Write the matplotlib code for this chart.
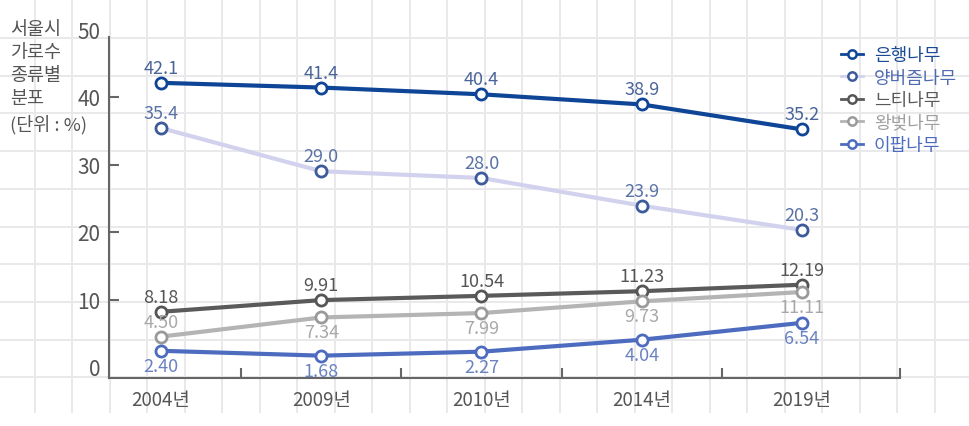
import matplotlib
matplotlib.use("Agg")
import matplotlib.pyplot as plt
from matplotlib.lines import Line2D

plt.rcParams['font.family'] = ['Noto Sans CJK KR', 'DejaVu Sans']
plt.rcParams['font.weight'] = 'light'

years = ['2004년', '2009년', '2010년', '2014년', '2019년']
series_names = ['은행나무', '양버즘나무', '느티나무', '왕벚나무', '이팝나무']
ginkgo = [42.1, 41.4, 40.4, 38.9, 35.2]
plane = [35.4, 29.0, 28.0, 23.9, 20.3]
zelkova = [8.18, 9.91, 10.54, 11.23, 12.19]
cherry = [4.50, 7.34, 7.99, 9.73, 11.11]
fringe = [2.40, 1.68, 2.27, 4.04, 6.54]
ginkgo_lbl = ['42.1', '41.4', '40.4', '38.9', '35.2']
plane_lbl = ['35.4', '29.0', '28.0', '23.9', '20.3']
zelkova_lbl = ['8.18', '9.91', '10.54', '11.23', '12.19']
cherry_lbl = ['4.50', '7.34', '7.99', '9.73', '11.11']
fringe_lbl = ['2.40', '1.68', '2.27', '4.04', '6.54']
yticks = [0, 10, 20, 30, 40, 50]
title_lines = ['서울시', '가로수', '종류별', '분포', '(단위 : %)']

W, H = 970, 427
fig = plt.figure(figsize=(W / 100, H / 100), dpi=100)
fig.patch.set_facecolor('white')

# graph-paper background
bg = fig.add_axes([0, 0, 1, 1], zorder=0)
bg.set_xlim(0, W)
bg.set_ylim(H, 0)
bg.axis('off')
gcol = '#e9e9eb'
x = 35.0
while x < W:
    bg.plot([x, x], [0, 413], color=gcol, lw=1.4)
    x += 37.5
y = 39.0
while y < 400:
    bg.plot([0, W], [y, y], color=gcol, lw=1.4)
    y += 37.7

# main axes
px_per_unit = 6.75
zero_px = 368
ax_left, ax_right, ax_bot = 109, 900, 379
ylo = -(ax_bot - zero_px) / px_per_unit
yhi = 50
top_px = zero_px - yhi * px_per_unit
ax = fig.add_axes([ax_left / W, (H - ax_bot) / H, (ax_right - ax_left) / W, (ax_bot - top_px) / H], zorder=1)
ax.patch.set_alpha(0)
cat_px = 160.25
first_px = 161
xlo = (ax_left - first_px) / cat_px
xhi = (ax_right - first_px) / cat_px
ax.set_xlim(xlo, xhi)
ax.set_ylim(ylo, yhi)

xs = list(range(len(years)))
spec = [
    (ginkgo, ginkgo_lbl, '#0e4597', '#0e4597', '#4a6599', 3.0, 1, '#1a4a94'),
    (plane, plane_lbl, '#d2d2ee', '#3d5a9a', '#5a72a5', 3.0, 1, '#4f6cb0'),
    (zelkova, zelkova_lbl, '#5a5a5a', '#555555', '#555555', 3.0, 1, '#5a5a5a'),
    (cherry, cherry_lbl, '#b4b4b4', '#9a9a9a', '#a8a8a8', 3.0, -1, '#a0a0a0'),
    (fringe, fringe_lbl, '#4d6cc0', '#4d6cc0', '#6a82bf', 3.0, -1, '#4d6cc0'),
]
handles = []
for i, (vals, lbls, lc, mc, tc, lw, side, legc) in enumerate(spec):
    ax.plot(xs, vals, color=lc, lw=lw, solid_capstyle='round', zorder=3 + i * 0.1)
    ax.plot(xs, vals, ls='none', marker='o', ms=8, mfc='white', mec=mc, mew=2, zorder=4)
    for j, (v, t) in enumerate(zip(vals, lbls)):
        s = side
        if i == 3 and j == 0:
            s = 1
        ax.annotate(t, (xs[j], v), xytext=(0, 15 * s), textcoords='offset pixels',
                    ha='center', va='center', fontsize=13, color=tc, zorder=5)
    handles.append(Line2D([0], [0], color=lc, lw=2, marker='o', ms=6, mfc='white', mec=mc, mew=1.8))

# spines and ticks
for s in ['top', 'right']:
    ax.spines[s].set_visible(False)
for s in ['left', 'bottom']:
    ax.spines[s].set_color('#666666')
    ax.spines[s].set_linewidth(1.5)
ax.spines['left'].set_bounds(ylo, (zero_px - 38) / px_per_unit)
ax.set_yticks(yticks)
ax.set_yticklabels([str(v) for v in yticks])
ax.tick_params(axis='y', direction='in', length=7, width=1.5, color='#666666',
               labelsize=15, labelcolor='#555555', pad=6)
ax.yaxis.get_major_ticks()[-1].tick1line.set_visible(False)
ax.yaxis.get_major_ticks()[0].tick1line.set_visible(False)
ax.set_xticks(xs)
ax.set_xticklabels(years)
ax.tick_params(axis='x', which='major', length=0, labelsize=13.5, labelcolor='#555555', pad=8)
ax.set_xticks([0.5, 1.5, 2.5, 3.5, xhi], minor=True)
ax.tick_params(axis='x', which='minor', direction='in', length=7, width=1.5, color='#666666')

# y title, one text per line
for k, line in enumerate(title_lines):
    ypx = 30 + 23 * k + (3 if k == len(title_lines) - 1 else 0)
    fig.text(10 / W, 1 - ypx / H, line, ha='left', va='center',
             fontsize=13.3, color='#555555')

# legend
leg = fig.legend(handles, series_names, loc='upper left', bbox_to_anchor=(834 / W, 1 - 40 / H),
                 frameon=False, fontsize=13, handlelength=1.2, handletextpad=0.6,
                 labelspacing=0.25, borderaxespad=0)
for txt, (_, _, _, _, _, _, _, legc) in zip(leg.get_texts(), spec):
    txt.set_color(legc)

fig.savefig('out.png', dpi=100)
